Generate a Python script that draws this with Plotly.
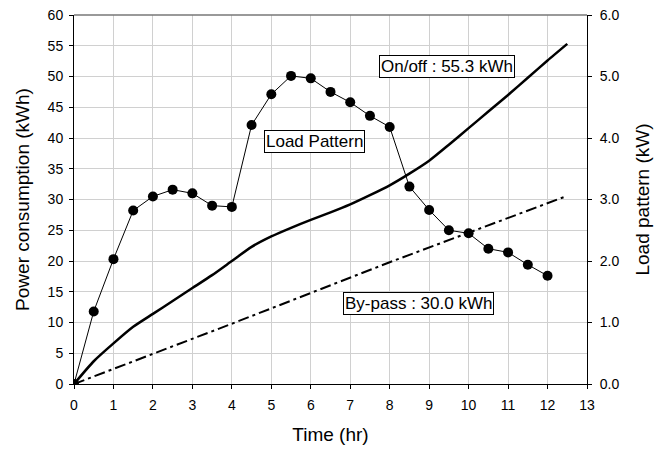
import plotly.graph_objects as go

# Load pattern (kW), every 0.5 hr
load_time = [0, 0.5, 1, 1.5, 2, 2.5, 3, 3.5, 4, 4.5, 5, 5.5, 6, 6.5, 7, 7.5, 8,
             8.5, 9, 9.5, 10, 10.5, 11, 11.5, 12]
load_kw = [0, 1.18, 2.03, 2.82, 3.05, 3.16, 3.10, 2.90, 2.88, 4.21, 4.71, 5.01,
           4.97, 4.75, 4.58, 4.36, 4.18, 3.21, 2.83, 2.50, 2.45, 2.20, 2.14,
           1.94, 1.76]

# On/off cumulative power consumption (kWh)
onoff_time = [0, 0.5, 1, 1.5, 2, 2.5, 3, 3.5, 4, 4.5, 5, 5.5, 6, 6.5, 7, 7.5,
              8, 8.5, 9, 9.5, 10, 10.5, 11, 11.5, 12, 12.5]
onoff_kwh = [0, 3.7, 6.6, 9.3, 11.4, 13.5, 15.6, 17.7, 20.0, 22.3, 24.0, 25.4,
             26.7, 27.9, 29.2, 30.7, 32.3, 34.2, 36.3, 38.9, 41.6, 44.3, 47.0,
             49.8, 52.6, 55.3]

# By-pass cumulative power consumption (kWh)
bypass_time = [0, 4, 8, 12.5]
bypass_kwh = [0, 9.8, 19.8, 30.6]

x_ticks = list(range(0, 14))
y_ticks = list(range(0, 61, 5))
y2_ticks = [0, 1, 2, 3, 4, 5, 6]

labels = [
    ("Load Pattern", 6.09, 39.4),
    ("On/off : 55.3 kWh", 9.45, 51.6),
    ("By-pass : 30.0 kWh", 8.72, 13.1),
]

font = "Liberation Sans, Arial, sans-serif"

fig = go.Figure()
fig.add_trace(go.Scatter(x=bypass_time, y=bypass_kwh, mode="lines",
                         line=dict(color="black", width=2, dash="11px,4px,3px,4px"),
                         showlegend=False, hoverinfo="skip"))
fig.add_trace(go.Scatter(x=onoff_time, y=onoff_kwh, mode="lines",
                         line=dict(color="black", width=2.5, shape="spline", smoothing=0.6),
                         showlegend=False))
fig.add_trace(go.Scatter(x=load_time, y=load_kw, mode="lines+markers", yaxis="y2",
                         line=dict(color="black", width=1),
                         marker=dict(color="black", size=10),
                         showlegend=False))

for text, x, y in labels:
    fig.add_annotation(x=x, y=y, xref="x", yref="y", text=text, showarrow=False,
                       font=dict(family=font, size=17, color="black"),
                       bgcolor="white", bordercolor="black", borderwidth=1,
                       borderpad=1)

fig.add_shape(type="line", xref="paper", yref="paper", x0=0, x1=1, y0=1, y1=1,
              line=dict(color="#777777", width=1.5))

fig.update_layout(
    width=660, height=442,
    margin=dict(l=66, r=81, t=7, b=66),
    paper_bgcolor="white", plot_bgcolor="white",
    font=dict(family=font, color="black", size=14),
    xaxis=dict(range=[0, 13], tickvals=x_ticks, showgrid=True,
               gridcolor="#d0d0d0", gridwidth=1,
               showline=True, linecolor="black", linewidth=1,
               ticks="outside", ticklen=4, tickcolor="black",
               ticklabelstandoff=4, ticklabeloverflow="allow",
               zeroline=False, automargin=False,
               title=dict(text="Time (hr)", font=dict(size=19), standoff=15),
               tickfont=dict(size=14)),
    yaxis=dict(range=[0, 60], tickvals=y_ticks, showgrid=True,
               gridcolor="#d0d0d0", gridwidth=1,
               showline=True, linecolor="black", linewidth=1,
               ticks="outside", ticklen=4, tickcolor="black",
               ticklabelstandoff=3, ticklabeloverflow="allow",
               zeroline=False, automargin=False,
               title=dict(text="Power consumption (kWh)", font=dict(size=19), standoff=12),
               tickfont=dict(size=14)),
    yaxis2=dict(range=[0, 6], tickvals=y2_ticks, tickformat=".1f",
                overlaying="y", side="right", showgrid=False,
                showline=True, linecolor="black", linewidth=1,
                ticks="outside", ticklen=4, tickcolor="black",
                ticklabelstandoff=5, ticklabeloverflow="allow",
                zeroline=False, automargin=False,
                title=dict(text="Load pattern (kW)", font=dict(size=19), standoff=17),
                tickfont=dict(size=14)),
)

fig.write_html("out.html")
